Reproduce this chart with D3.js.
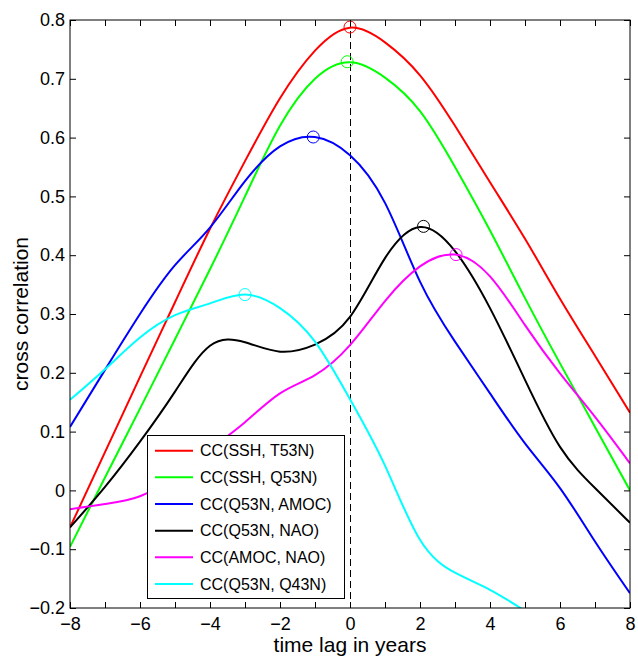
<!DOCTYPE html>
<html>
<head>
<meta charset="utf-8">
<script src="https://cdn.jsdelivr.net/npm/d3@7/dist/d3.min.js"></script>
<style>
  html, body { margin: 0; padding: 0; background: #fff; }
  svg { display: block; font-family: "Liberation Sans", Arial, Helvetica, sans-serif; }
</style>
</head>
<body>
<svg id="chart" width="638" height="657"></svg>
<script>
// ---- data ----
const lags = [-8, -7, -6, -5, -4, -3, -2, -1, 0, 1, 2, 3, 4, 5, 6, 7, 8];
const ccSshT53n   = [-0.063, 0.065, 0.193, 0.320, 0.445, 0.560, 0.667, 0.748, 0.787, 0.762, 0.706, 0.620, 0.524, 0.428, 0.326, 0.229, 0.132];
const ccSshQ53n   = [-0.096, 0.022, 0.139, 0.257, 0.376, 0.500, 0.620, 0.700, 0.728, 0.702, 0.645, 0.550, 0.442, 0.327, 0.216, 0.108, 0.000];
const ccQ53nAmoc  = [0.108, 0.205, 0.300, 0.383, 0.447, 0.526, 0.585, 0.601, 0.570, 0.489, 0.355, 0.253, 0.165, 0.080, 0.004, -0.087, -0.175];
const ccQ53nNao   = [-0.063, 0.006, 0.083, 0.168, 0.246, 0.252, 0.236, 0.248, 0.295, 0.395, 0.448, 0.407, 0.310, 0.188, 0.074, 0.004, -0.055];
const ccAmocNao   = [-0.032, -0.023, -0.010, 0.025, 0.070, 0.116, 0.165, 0.196, 0.247, 0.322, 0.381, 0.401, 0.364, 0.281, 0.199, 0.125, 0.046];
const ccQ53nQ43n  = [0.154, 0.206, 0.260, 0.298, 0.318, 0.333, 0.310, 0.253, 0.155, 0.042, -0.084, -0.140, -0.169, -0.205, null, null, null];

const seriesNames  = ["CC(SSH, T53N)", "CC(SSH, Q53N)", "CC(Q53N, AMOC)", "CC(Q53N, NAO)", "CC(AMOC, NAO)", "CC(Q53N, Q43N)"];
const seriesColors = ["#ff0000", "#00ff00", "#0000ff", "#000000", "#ff00ff", "#00ffff"];
const seriesValues = [ccSshT53n, ccSshQ53n, ccQ53nAmoc, ccQ53nNao, ccAmocNao, ccQ53nQ43n];

// peak markers (lag, value) per series
const peakLags = [0.0, -0.08, -1.05, 2.1, 3.03, -3.0];
const peakVals = [0.788, 0.729, 0.601, 0.449, 0.401, 0.333];

const xTicks = [-8, -7, -6, -5, -4, -3, -2, -1, 0, 1, 2, 3, 4, 5, 6, 7, 8];
const xTickLabels = ["\u22128", "", "\u22126", "", "\u22124", "", "\u22122", "", "0", "", "2", "", "4", "", "6", "", "8"];
const yTicks = [-0.2, -0.1, 0, 0.1, 0.2, 0.3, 0.4, 0.5, 0.6, 0.7, 0.8];
const yTickLabels = ["\u22120.2", "\u22120.1", "0", "0.1", "0.2", "0.3", "0.4", "0.5", "0.6", "0.7", "0.8"];

// ---- layout ----
const svg = d3.select("#chart");
const L = 70, T = 20, R = 630, B = 608;
const x = d3.scaleLinear().domain([-8, 8]).range([L, R]);
const y = d3.scaleLinear().domain([-0.2, 0.8]).range([B, T]);

svg.append("defs").append("clipPath").attr("id", "clip")
  .append("rect").attr("x", L).attr("y", T).attr("width", R - L).attr("height", B - T);

// zero-lag dashed line
svg.append("line")
  .attr("x1", x(0)).attr("x2", x(0)).attr("y1", y(0.8)).attr("y2", y(-0.2))
  .attr("stroke", "#000").attr("stroke-width", 1).attr("stroke-dasharray", "7,4")
  .attr("shape-rendering", "crispEdges");

// curves
const line = d3.line()
  .defined(d => d[1] !== null)
  .x(d => x(d[0])).y(d => y(d[1]))
  .curve(d3.curveNatural);

const gLines = svg.append("g").attr("clip-path", "url(#clip)");
seriesValues.forEach((vals, i) => {
  gLines.append("path")
    .datum(lags.map((l, j) => [l, vals[j]]))
    .attr("d", line)
    .attr("fill", "none")
    .attr("stroke", seriesColors[i])
    .attr("stroke-width", 2)
    .attr("stroke-linejoin", "round");
});

// peak markers
seriesColors.forEach((c, i) => {
  svg.append("circle")
    .attr("cx", x(peakLags[i])).attr("cy", y(peakVals[i])).attr("r", 6)
    .attr("fill", "none").attr("stroke", c).attr("stroke-width", 1);
});

// axes
const fs = "18px";
const xb = d3.axisBottom(x).tickValues(xTicks).tickSizeInner(-6).tickSizeOuter(0).tickPadding(9)
  .tickFormat((d, i) => xTickLabels[i]);
const gxb = svg.append("g").attr("transform", `translate(0,${B})`).call(xb);
const xt = d3.axisTop(x).tickValues(xTicks).tickSizeInner(-6).tickSizeOuter(0).tickFormat("");
const gxt = svg.append("g").attr("transform", `translate(0,${T})`).call(xt);
const yl = d3.axisLeft(y).tickValues(yTicks).tickSizeInner(-6).tickSizeOuter(0).tickPadding(5)
  .tickFormat((d, i) => yTickLabels[i]);
const gyl = svg.append("g").attr("transform", `translate(${L},0)`).call(yl);
const yr = d3.axisRight(y).tickValues(yTicks).tickSizeInner(-6).tickSizeOuter(0).tickFormat("");
const gyr = svg.append("g").attr("transform", `translate(${R},0)`).call(yr);

[gxb, gxt, gyl, gyr].forEach(g => {
  g.select(".domain").remove();
  g.selectAll(".tick line").attr("stroke", "#000");
  g.selectAll("text").attr("fill", "#000").style("font-size", fs)
    .style("font-family", '"Liberation Sans", Arial, Helvetica, sans-serif');
});

// frame
svg.append("rect").attr("x", L).attr("y", T).attr("width", R - L).attr("height", B - T)
  .attr("fill", "none").attr("stroke", "#000").attr("stroke-width", 1);

// axis labels
svg.append("text").attr("x", (L + R) / 2).attr("y", 652).attr("text-anchor", "middle")
  .style("font-size", "21px").text("time lag in years");
svg.append("text").attr("transform", `translate(28,${(T + B) / 2}) rotate(-90)`)
  .attr("text-anchor", "middle").style("font-size", "21px").text("cross correlation");

// legend
const lg = svg.append("g");
lg.append("rect").attr("x", 147.5).attr("y", 435.5).attr("width", 197).attr("height", 163)
  .attr("fill", "#fff").attr("stroke", "#000").attr("stroke-width", 1);
seriesNames.forEach((n, i) => {
  const cy = 450.7 + i * 26.65;
  lg.append("line").attr("x1", 155).attr("x2", 193).attr("y1", cy).attr("y2", cy)
    .attr("stroke", seriesColors[i]).attr("stroke-width", 2);
  lg.append("text").attr("x", 200).attr("y", cy).attr("dy", "0.36em")
    .style("font-size", "16px").text(n);
});
</script>
</body>
</html>
